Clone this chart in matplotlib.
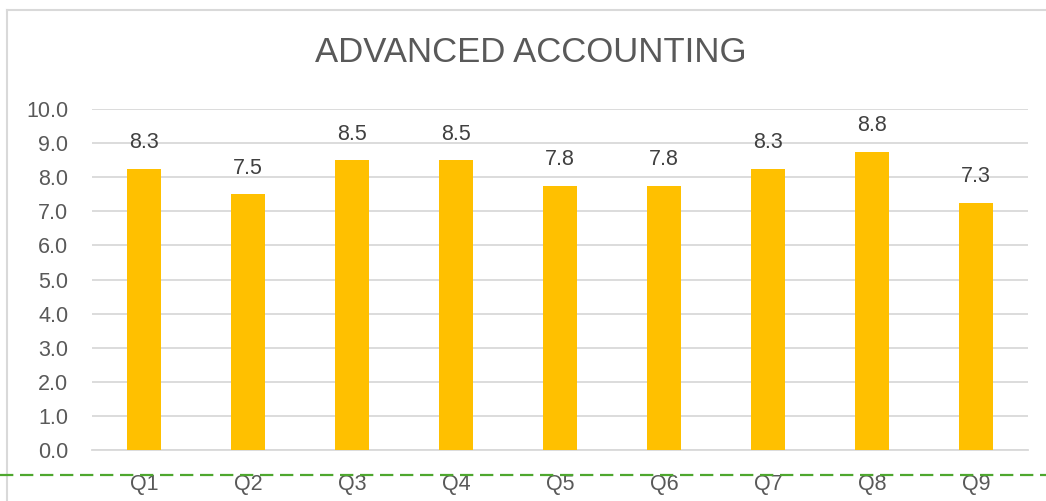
import matplotlib.pyplot as plt
from matplotlib.lines import Line2D
from decimal import Decimal, ROUND_HALF_UP

# Data
categories = ['Q1', 'Q2', 'Q3', 'Q4', 'Q5', 'Q6', 'Q7', 'Q8', 'Q9']
scores = [8.25, 7.5, 8.5, 8.5, 7.75, 7.75, 8.25, 8.75, 7.25]
y_ticks = [0, 1, 2, 3, 4, 5, 6, 7, 8, 9, 10]

BAR = '#FFC000'
TEXT = '#595959'
GRID = '#D9D9D9'

plt.rcParams['font.family'] = ['Liberation Sans', 'DejaVu Sans']

fig = plt.figure(figsize=(10.46, 5.01), dpi=100)
ax = fig.add_axes([92 / 1046, 1 - 450 / 501, (1028 - 92) / 1046, (450 - 109) / 501])

x = range(len(categories))
ax.bar(x, scores, width=0.32, color=BAR, zorder=3)

# value labels, Excel style rounding (half up)
for i, v in zip(x, scores):
    txt = str(Decimal(str(v)).quantize(Decimal('0.1'), rounding=ROUND_HALF_UP))
    ax.annotate(txt, (i, v), xytext=(0, 11), textcoords='offset points',
                ha='center', va='bottom', fontsize=15.5, color='#404040')

ax.set_xlim(-0.5, len(categories) - 0.5)
ax.set_ylim(0, 10)
ax.set_yticks(y_ticks)
ax.set_yticklabels([f'{t:.1f}' for t in y_ticks])
ax.set_xticks(list(x))
ax.set_xticklabels(categories)
ax.tick_params(axis='both', length=0, labelsize=15.5, labelcolor=TEXT)
ax.tick_params(axis='x', pad=17)
ax.tick_params(axis='y', pad=17)
ax.grid(axis='y', color=GRID, linewidth=1.3, zorder=0)
for s in ['top', 'right', 'left']:
    ax.spines[s].set_visible(False)
ax.spines['bottom'].set_color(GRID)
ax.spines['bottom'].set_linewidth(1.3)

fig.text(531 / 1046, 1 - 53 / 501, 'ADVANCED ACCOUNTING', ha='center', va='center',
         fontsize=25, color=TEXT)

# chart frame (left and top edge visible)
fig.add_artist(Line2D([7 / 1046, 7 / 1046], [0, 1 - 10 / 501], transform=fig.transFigure,
                      color=GRID, linewidth=1.5))
fig.add_artist(Line2D([7 / 1046, 1], [1 - 10 / 501, 1 - 10 / 501], transform=fig.transFigure,
                      color=GRID, linewidth=1.5))

# green dashed line across the bottom
fig.add_artist(Line2D([0, 1], [1 - 475 / 501, 1 - 475 / 501], transform=fig.transFigure,
                      color='#4EA72E', linewidth=1.6, linestyle=(0, (6, 3))))

plt.savefig('out.png', dpi=100, facecolor='white')
plt.close()
